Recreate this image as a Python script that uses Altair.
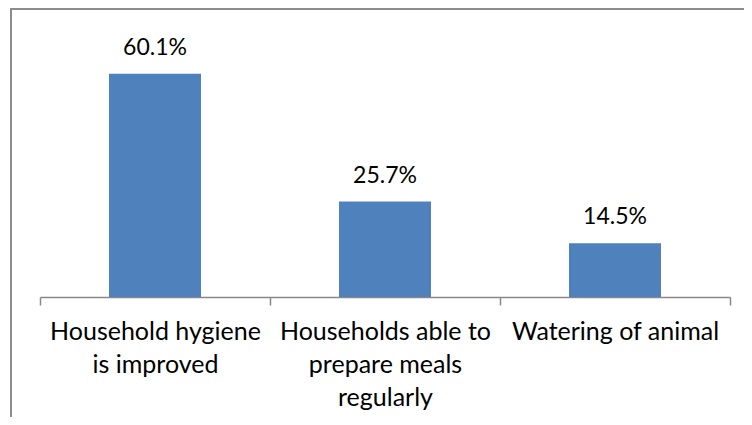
import altair as alt
import pandas as pd

categories = ["Household hygiene\nis improved", "Households able to\nprepare meals\nregularly", "Watering of animal"]
values = [60.1, 25.7, 14.5]
labels = ["60.1%", "25.7%", "14.5%"]

df = pd.DataFrame({"cat": categories, "val": values, "lab": labels})

FONT = "Lato"

x_enc = alt.X("cat:N", sort=categories, title=None,
              scale=alt.Scale(paddingInner=0, paddingOuter=0),
              axis=alt.Axis(labelAngle=0, labelExpr="split(datum.label, '\\n')",
                            labelFont=FONT, labelFontSize=25, labelColor="#000000",
                            labelLineHeight=33, labelLimit=400, labelPadding=14,
                            tickBand="extent", tickSize=8, tickColor="#888888",
                            tickWidth=1.5, domainColor="#888888", domainWidth=1.5,
                            grid=False))
y_enc = alt.Y("val:Q", scale=alt.Scale(domain=[0, 70]), axis=None)

base = alt.Chart(df)
bars = base.mark_bar(color="#4f81bd", width={"band": 0.4}).encode(x=x_enc, y=y_enc)
text = base.mark_text(font=FONT, fontSize=23, color="#000000", baseline="alphabetic", dy=-19).encode(
    x=alt.X("cat:N", sort=categories), y="val:Q", text="lab:N")

one = alt.Data(values=[{}])
border_left = alt.Chart(one).mark_rule(color="#8c8c8c", strokeWidth=2).encode(
    x=alt.value(-29), y=alt.value(-28), y2=alt.value(380))
border_top = alt.Chart(one).mark_rule(color="#8c8c8c", strokeWidth=2).encode(
    x=alt.value(-30), x2=alt.value(704), y=alt.value(-28))

chart = alt.layer(bars, text, border_left, border_top).properties(
    width=690, height=260,
    autosize=alt.AutoSizeParams(type="none"),
    padding={"left": 32, "top": 29, "right": 14, "bottom": 120},
).configure(font=FONT).configure_view(stroke=None)

chart.save("out.html", embed_options={"renderer": "svg", "actions": False})
